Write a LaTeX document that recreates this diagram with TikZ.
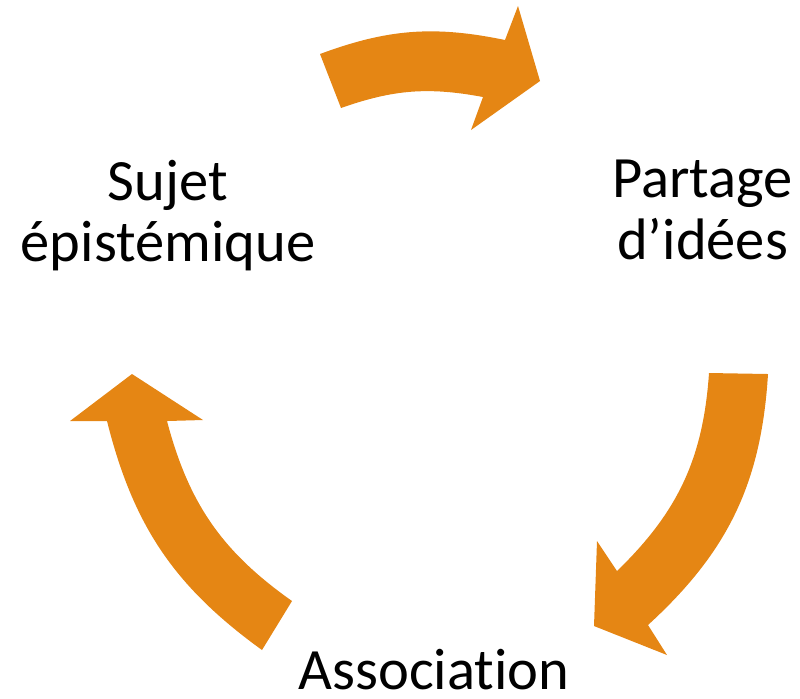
\documentclass[tikz,border=0pt]{standalone}
\usepackage{fontspec}
\setmainfont{Carlito}[Ligatures=NoCommon]
\definecolor{cycleorange}{RGB}{229,134,20}
\tikzstyle{blockarrow}=[fill=cycleorange,draw=none]
\tikzstyle{cyclelabel}=[align=center,inner sep=0pt,font=\fontsize{33.3}{35.2}\selectfont]

\begin{document}
\begin{tikzpicture}[x=0.02cm,y=-0.02cm]
  \useasboundingbox (0,0) rectangle (800,698);

  \foreach \pos/\name/\words in {{(168,215.5)/sujet/{Sujet\\épistémique}}, {(702.5,210)/partage/{Partage\\d’idées}}}
     \node[cyclelabel] (\name) at \pos {\words};
  \node[cyclelabel,anchor=base] (assoc) at (434,689) {Association};

  \foreach \pos/\name in {{(320,54)/t1}, {(505,40)/t2}, {(518,6)/t3}, {(540,81)/t4}, {(471,130)/t5}, {(483,97)/t6}, {(341,108)/t7},
                          {(768,374)/r1}, {(648,625)/r2}, {(667,655)/r3}, {(594,626)/r4}, {(597,541)/r5}, {(617,571)/r6}, {(709,373)/r7},
                          {(262,650)/l1}, {(107,421)/l2}, {(70,421)/l3}, {(132,374)/l4}, {(203,420)/l5}, {(167,421)/l6}, {(292,601)/l7}}
     \path \pos coordinate (\name);

  \path[blockarrow] (t1) to[bend left=16] (t2) -- (t3) -- (t4) -- (t5) -- (t6) to[bend right=15] (t7) -- cycle;
  \path[blockarrow] (r1) to[bend left=22] (r2) -- (r3) -- (r4) -- (r5) -- (r6) to[bend right=21] (r7) -- cycle;
  \path[blockarrow] (l1) to[bend left=20] (l2) -- (l3) -- (l4) -- (l5) -- (l6) to[bend right=20] (l7) -- cycle;

\end{tikzpicture}
\end{document}
